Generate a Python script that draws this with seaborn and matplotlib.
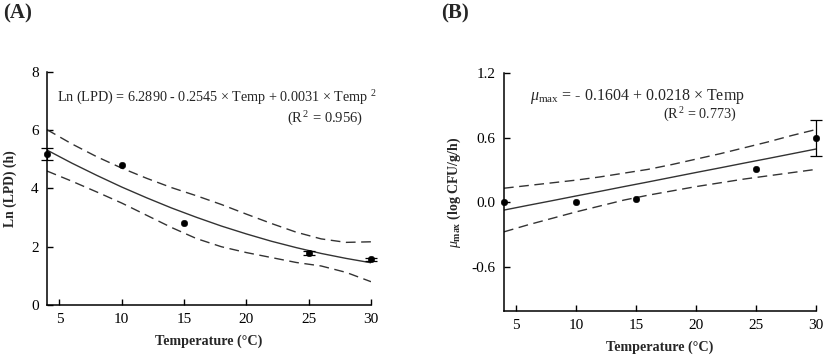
import numpy as np
import pandas as pd
import matplotlib
matplotlib.use('Agg')
import matplotlib.pyplot as plt
import seaborn as sns

temp_obs = [4, 10, 15, 25, 30]
lpd_obs = [5.19, 4.80, 2.81, 1.78, 1.57]
lpd_err = [0.20, 0.0, 0.0, 0.06, 0.06]
mu_obs = [0.00, 0.005, 0.034, 0.306, 0.597]
mu_err = [0.0, 0.0, 0.0, 0.0, 0.165]

# fitted curve and confidence bands, read at 2 degree steps
temp_grid = [4, 6, 8, 10, 12, 14, 16, 18, 20, 22, 24, 26, 28, 30]
lpd_fit = [5.32, 4.87, 4.45, 4.05, 3.68, 3.33, 3.01, 2.71, 2.44, 2.19, 1.97, 1.77, 1.60, 1.45]
lpd_upper = [6.02, 5.53, 5.09, 4.70, 4.35, 4.03, 3.75, 3.45, 3.12, 2.80, 2.50, 2.27, 2.15, 2.17]
lpd_lower = [4.60, 4.25, 3.88, 3.50, 3.08, 2.66, 2.28, 2.00, 1.80, 1.63, 1.46, 1.34, 1.12, 0.80]

mu_fit = [-0.073, -0.029, 0.014, 0.058, 0.101, 0.145, 0.188, 0.232, 0.276, 0.319, 0.363, 0.406, 0.450, 0.494]
mu_upper = [0.13, 0.155, 0.18, 0.205, 0.235, 0.27, 0.305, 0.35, 0.40, 0.45, 0.505, 0.56, 0.62, 0.675]
mu_lower = [-0.275, -0.21, -0.15, -0.09, -0.035, 0.02, 0.065, 0.105, 0.145, 0.18, 0.215, 0.245, 0.275, 0.305]

sns.set_theme(style='ticks')
plt.rcParams['font.family'] = ['Liberation Serif', 'DejaVu Serif']
plt.rcParams['mathtext.fontset'] = 'custom'
plt.rcParams['mathtext.rm'] = 'Liberation Serif'
plt.rcParams['mathtext.it'] = 'Liberation Serif:italic'
plt.rcParams['mathtext.bf'] = 'Liberation Serif:bold'
plt.rcParams['axes.unicode_minus'] = False

fig = plt.figure(figsize=(8.27, 3.64), dpi=100)
axA = fig.add_axes([0.0568, 0.1621, 0.3918, 0.6401])
axB = fig.add_axes([0.6094, 0.1456, 0.3773, 0.6539])

line_col = '#333333'
dash = (0, (7, 4))


def draw_panel(ax, y_obs, y_err, fit, upper, lower):
    sns.lineplot(x=temp_grid, y=fit, ax=ax, color=line_col, linewidth=1.0)
    sns.lineplot(x=temp_grid, y=upper, ax=ax, color=line_col, linewidth=1.0, linestyle=dash)
    sns.lineplot(x=temp_grid, y=lower, ax=ax, color=line_col, linewidth=1.0, linestyle=dash)
    # error bars only where an error was shown
    keep = [i for i, e in enumerate(y_err) if e > 0]
    ax.errorbar([temp_obs[i] for i in keep], [y_obs[i] for i in keep],
                yerr=[y_err[i] for i in keep], fmt='none', ecolor='black',
                elinewidth=0.9, capsize=4, capthick=0.9, clip_on=False)
    sns.scatterplot(x=temp_obs, y=y_obs, ax=ax, color='black', s=22,
                    edgecolor='black', clip_on=False, zorder=5)
    ax.set_xlim(4, 30)
    ax.set_xticks([5, 10, 15, 20, 25, 30])
    sns.despine(ax=ax)
    for s in ['left', 'bottom']:
        ax.spines[s].set_linewidth(1.1)
        ax.spines[s].set_color('black')
    ax.tick_params(direction='in', length=4, width=1, labelsize=11, pad=6, colors='black')
    ax.set_xlabel('Temperature (°C)', fontsize=10.2, fontweight='bold', labelpad=6)


# Panel A
draw_panel(axA, lpd_obs, lpd_err, lpd_fit, lpd_upper, lpd_lower)
axA.set_ylim(0, 8)
axA.set_yticks([0, 2, 4, 6, 8])
axA.set_ylabel('Ln (LPD) (h)', fontsize=9.8, fontweight='bold', labelpad=10)
axA.text(0.03, 0.888, r'Ln (LPD) = 6.2890 - 0.2545 × Temp + 0.0031 × Temp $^{2}$',
         transform=axA.transAxes, fontsize=10.2, ha='left', va='center')
axA.text(0.975, 0.80, r'(R$^{\,2}$ = 0.956)', transform=axA.transAxes,
         fontsize=10.5, ha='right', va='center')
fig.text(0.004, 0.962, '(A)', fontsize=15, fontweight='bold', ha='left', va='center')

# Panel B
draw_panel(axB, mu_obs, mu_err, mu_fit, mu_upper, mu_lower)
axB.set_ylim(-1.01, 1.2)
axB.set_yticks([-0.6, 0.0, 0.6, 1.2])
axB.set_yticklabels(['-0.6', '0.0', '0.6', '1.2'])
axB.set_ylabel(r'$\mathit{\mu}_{\mathbf{max}}$ (log CFU/g/h)', fontsize=10, fontweight='bold', labelpad=6)
axB.text(0.085, 0.902, r'$\mathit{\mu}_{\mathrm{max}}$ = - 0.1604 + 0.0218 × Temp',
         transform=axB.transAxes, fontsize=11.5, ha='left', va='center')
axB.text(0.745, 0.826, r'(R$^{\,2}$ = 0.773)', transform=axB.transAxes,
         fontsize=10.2, ha='right', va='center')
fig.text(0.533, 0.962, '(B)', fontsize=15, fontweight='bold', ha='left', va='center')

fig.savefig('out.png', dpi=100)
